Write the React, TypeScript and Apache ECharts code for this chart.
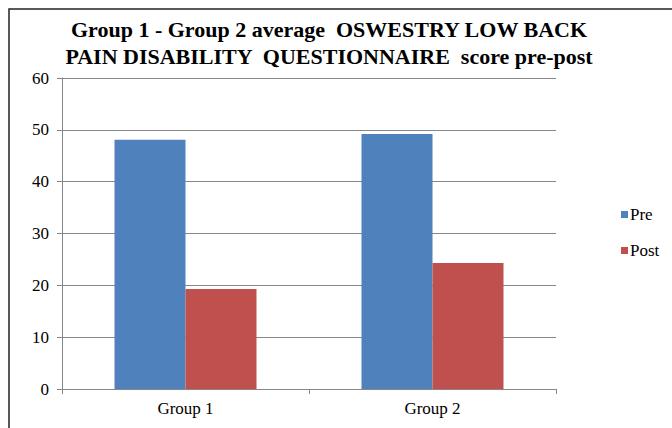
import React, { useEffect, useRef } from "react";
import * as echarts from "echarts";

const categories = ["Group 1", "Group 2"];
const preValues = [48.1, 49.2];
const postValues = [19.3, 24.3];
const seriesNames = ["Pre", "Post"];
const titleLines = [
  "Group 1 - Group 2 average  OSWESTRY LOW BACK",
  "PAIN DISABILITY  QUESTIONNAIRE  score pre-post",
];

export default function App() {
  const ref = useRef<HTMLDivElement>(null);
  useEffect(() => {
    if (!ref.current) return;
    const chart = echarts.init(ref.current, null, { renderer: "svg" });
    const font = "Times New Roman, Liberation Serif, DejaVu Serif, serif";
    chart.setOption({
      animation: false,
      backgroundColor: "#ffffff",
      textStyle: { fontFamily: font },
      title: {
        text: titleLines.join("\n"),
        left: 329,
        top: 16,
        padding: 0,
        textAlign: "center",
        textStyle: {
          fontFamily: font,
          fontWeight: "bold",
          fontSize: 22,
          lineHeight: 27,
          color: "#000",
        },
      },
      legend: {
        orient: "vertical",
        left: 621,
        top: 206,
        padding: 0,
        itemWidth: 7,
        itemHeight: 7,
        itemGap: 19,
        icon: "rect",
        textStyle: { fontFamily: font, fontSize: 17, color: "#000", padding: [0, 0, 0, -3] },
        data: seriesNames,
      },
      graphic: [
        {
          type: "rect",
          shape: { x: 9, y: 9, width: 700, height: 500 },
          style: { fill: "none", stroke: "#222", lineWidth: 1.5 },
          silent: true,
        },
      ],
      grid: { left: 62, top: 78, width: 494, height: 311, containLabel: false },
      xAxis: {
        type: "category",
        data: categories,
        axisLine: { lineStyle: { color: "#868686" } },
        axisTick: { show: true, alignWithLabel: false, length: 5, lineStyle: { color: "#868686" } },
        axisLabel: { fontFamily: font, fontSize: 17, color: "#000", margin: 11 },
      },
      yAxis: {
        type: "value",
        min: 0,
        max: 60,
        interval: 10,
        axisLine: { show: true, lineStyle: { color: "#868686" } },
        axisTick: { show: true, length: 5, lineStyle: { color: "#868686" } },
        axisLabel: { fontFamily: font, fontSize: 17, color: "#000", margin: 13 },
        splitLine: { lineStyle: { color: "#868686" } },
      },
      series: [
        {
          name: seriesNames[0],
          type: "bar",
          data: preValues,
          barWidth: 71,
          barGap: "0%",
          itemStyle: { color: "#4f81bd" },
        },
        {
          name: seriesNames[1],
          type: "bar",
          data: postValues,
          barWidth: 71,
          barGap: "0%",
          itemStyle: { color: "#c0504d" },
        },
      ],
    });
    return () => chart.dispose();
  }, []);
  return (
    <div
      ref={ref}
      style={{ position: "fixed", left: 0, top: 0, width: 672, height: 428 }}
    />
  );
}
